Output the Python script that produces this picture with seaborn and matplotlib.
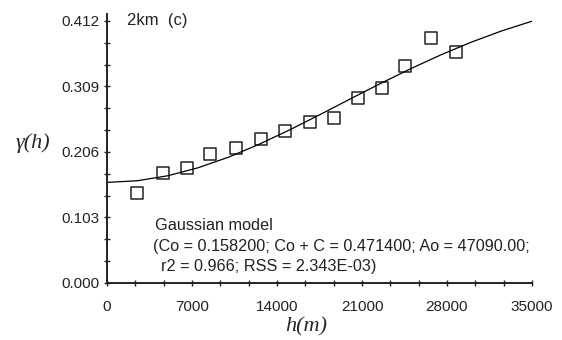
import numpy as np
import pandas as pd
import matplotlib
matplotlib.use("Agg")
import matplotlib.pyplot as plt
import seaborn as sns

# experimental semivariogram points (lag distance h, semivariance)
lag_h = [2470, 4610, 6590, 8480, 10620, 12680, 14660, 16720, 18690,
         20670, 22650, 24540, 26680, 28740]
semivar = [0.1415, 0.1730, 0.1810, 0.2030, 0.2120, 0.2260, 0.2390, 0.2530,
           0.2590, 0.2910, 0.3070, 0.3410, 0.3850, 0.3630]

# fitted gaussian model curve
curve_h = [0, 2500, 5000, 7500, 10000, 12500, 15000, 17500, 20000,
           22500, 25000, 27500, 30000, 32500, 35000]
curve_g = [0.1582, 0.1608, 0.1686, 0.1812, 0.1978, 0.2179, 0.2404, 0.2644,
           0.2891, 0.3135, 0.3369, 0.3588, 0.3787, 0.3964, 0.4117]

x_ticks = [0, 7000, 14000, 21000, 28000, 35000]
y_ticks = [0.000, 0.103, 0.206, 0.309, 0.412]

pts = pd.DataFrame({"h": lag_h, "g": semivar})
model = pd.DataFrame({"h": curve_h, "g": curve_g})

sns.set_style("ticks")
plt.rcParams['font.family'] = ['Liberation Sans', 'DejaVu Sans']

fig = plt.figure(figsize=(5.62, 3.40), dpi=100)
ax = fig.add_axes([107/562, 1-283/340, 425/562, 269/340])

sns.lineplot(data=model, x="h", y="g", ax=ax, color="black", linewidth=0.9)
sns.scatterplot(data=pts, x="h", y="g", ax=ax, marker="s", s=75,
                facecolor="none", edgecolor="#222222", linewidth=1.1)

ax.set_xlim(0, 35000)
ax.set_ylim(0, 0.423)
ax.set_xticks(x_ticks)
ax.set_xticklabels([str(v) for v in x_ticks])
ax.set_yticks(y_ticks)
ax.set_yticklabels(["%.3f" % v for v in y_ticks])
ax.set_xticks(np.arange(0, 35001, 7000/3), minor=True)
ax.set_yticks(np.arange(0, 0.4121, 0.103/3), minor=True)
ax.tick_params(which="both", direction="inout", length=4.5, width=1.0,
               color="#222222", labelsize=11, labelcolor="#222222",
               bottom=True, left=True)
ax.tick_params(axis="x", which="major", pad=10)
ax.tick_params(axis="y", which="major", pad=3)
sns.despine(ax=ax)
for s in ["left", "bottom"]:
    ax.spines[s].set_linewidth(1.4)
    ax.spines[s].set_color("#222222")
ax.set_xlabel("")
ax.set_ylabel("")

fig.text(33/562, 1-143/340, "γ(h)", fontsize=16, family="Liberation Serif",
         style="italic", ha="center", va="center")
fig.text(306/562, 1-327/340, "h(m)", fontsize=16, family="Liberation Serif",
         style="italic", ha="center", va="center")
fig.text(127/562, 1-21/340, "2km  (c)", fontsize=12, ha="left", va="center",
         color="#222222")
fig.text(155/562, 1-225/340, "Gaussian model", fontsize=11.7, ha="left",
         va="center", color="#222222")
fig.text(153/562, 1-246/340,
         "(Co = 0.158200; Co + C = 0.471400; Ao = 47090.00;", fontsize=11.7,
         ha="left", va="center", color="#222222")
fig.text(161/562, 1-267/340, "r2 = 0.966; RSS = 2.343E-03)", fontsize=11.7,
         ha="left", va="center", color="#222222")

fig.savefig("out.png", dpi=100)
